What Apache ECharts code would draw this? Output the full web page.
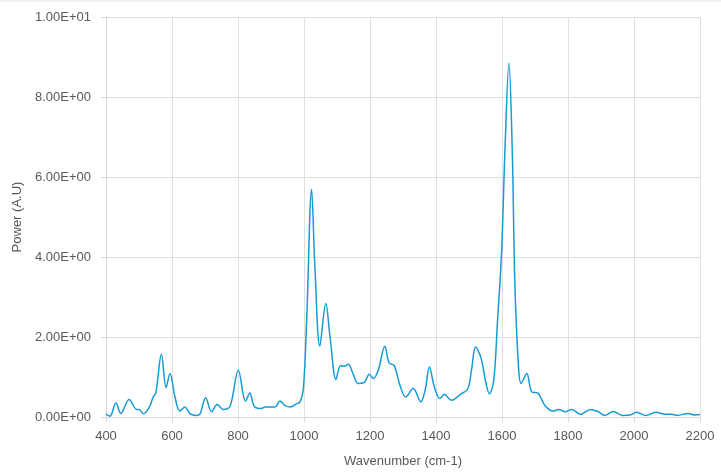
<!DOCTYPE html>
<html>
<head>
<meta charset="utf-8">
<script src="https://cdn.jsdelivr.net/npm/echarts@6/dist/echarts.min.js"></script>
<style>html,body{margin:0;padding:0;background:#fff;}#c{width:721px;height:475px;}</style>
</head>
<body>
<div id="c"></div>
<script>
const wavenumber = [400,412,430,445,470,493,500,513,531,543,551,568,582,594,609,624,639,655,675,685,702,720,737,755,776,801,823,836,849,869,882,897,912,927,942,960,975,988,998,1008,1023,1033,1048,1066,1079,1097,1111,1121,1134,1149,1164,1182,1198,1210,1225,1245,1258,1273,1291,1308,1331,1354,1367,1380,1395,1412,1425,1447,1473,1496,1508,1520,1537,1550,1562,1575,1586,1599,1609,1621,1631,1639,1650,1658,1675,1690,1710,1730,1755,1773,1791,1811,1838,1868,1892,1912,1937,1965,1988,2008,2036,2066,2094,2114,2131,2164,2185,2200];
const power = [0.07,0.02,0.35,0.09,0.44,0.19,0.19,0.08,0.24,0.5,0.6,1.57,0.74,1.09,0.5,0.15,0.25,0.08,0.04,0.08,0.48,0.13,0.31,0.19,0.27,1.17,0.4,0.6,0.27,0.21,0.25,0.25,0.25,0.4,0.29,0.25,0.32,0.38,0.7,2.4,5.69,3.76,1.77,2.84,2.0,0.94,1.29,1.27,1.32,1.07,0.84,0.86,1.07,0.96,1.17,1.77,1.35,1.29,0.79,0.5,0.71,0.38,0.67,1.25,0.75,0.46,0.57,0.42,0.56,0.7,1.2,1.75,1.46,0.9,0.58,0.92,2.34,4.17,6.68,8.85,6.68,3.34,1.25,0.84,1.09,0.63,0.59,0.29,0.15,0.19,0.13,0.19,0.07,0.19,0.13,0.04,0.14,0.04,0.05,0.12,0.04,0.12,0.07,0.07,0.04,0.09,0.05,0.06];
const xTicks = {min: 400, max: 2200, step: 200};
const yTicks = {min: 0, max: 10, step: 2};
const xName = 'Wavenumber (cm-1)';
const yName = 'Power (A.U)';

function sci(v) {
  if (v === 0) return '0.00E+00';
  const e = Math.floor(Math.log10(Math.abs(v)));
  const m = v / Math.pow(10, e);
  const es = (e < 0 ? '-' : '+') + String(Math.abs(e)).padStart(2, '0');
  return m.toFixed(2) + 'E' + es;
}

const chart = echarts.init(document.getElementById('c'), null, {renderer: 'canvas'});
const font = 'Liberation Sans, Arial, sans-serif';
chart.setOption({
  animation: false,
  backgroundColor: '#ffffff',
  graphic: [{type: 'rect', left: 0, top: 0, shape: {width: 721, height: 2}, style: {fill: '#f3f3f3'}, silent: true}],
  grid: {left: 106, right: 21, top: 17, bottom: 58, containLabel: false},
  xAxis: {
    type: 'value', min: xTicks.min, max: xTicks.max, interval: xTicks.step,
    name: xName, nameLocation: 'middle', nameGap: 38,
    nameTextStyle: {color: '#595959', fontSize: 13, fontFamily: font},
    axisLine: {show: true, lineStyle: {color: '#d9d9d9', width: 1}},
    axisTick: {show: true, length: 5, lineStyle: {color: '#d9d9d9'}},
    axisLabel: {color: '#595959', fontSize: 13, fontFamily: font, margin: 13, formatter: v => String(v)},
    splitLine: {show: true, lineStyle: {color: '#e0e0e0', width: 1}}
  },
  yAxis: {
    type: 'value', min: yTicks.min, max: yTicks.max, interval: yTicks.step,
    name: yName, nameLocation: 'middle', nameGap: 81, nameRotate: 90,
    nameTextStyle: {color: '#595959', fontSize: 13, fontFamily: font},
    axisLine: {show: true, lineStyle: {color: '#d9d9d9', width: 1}},
    axisTick: {show: true, length: 5, lineStyle: {color: '#d9d9d9'}},
    axisLabel: {color: '#595959', fontSize: 13, fontFamily: font, margin: 15, formatter: sci},
    splitLine: {show: true, lineStyle: {color: '#e0e0e0', width: 1}}
  },
  series: [{
    type: 'line',
    data: wavenumber.map((w, i) => [w, power[i]]),
    showSymbol: false,
    smooth: 0.35,
    lineStyle: {color: '#159bd7', width: 1.5},
    itemStyle: {color: '#159bd7'}
  }]
});
</script>
</body>
</html>
